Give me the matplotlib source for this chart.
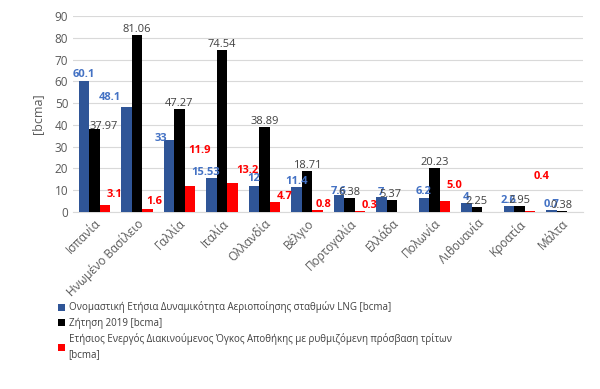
import matplotlib
matplotlib.use("Agg")
import matplotlib.pyplot as plt
import numpy as np

plt.rcParams['font.family'] = ['Open Sans', 'DejaVu Sans']

countries = ["Ισπανία", "Ηνωμένο Βασίλειο", "Γαλλία", "Ιταλία", "Ολλανδία", "Βέλγιο",
             "Πορτογαλία", "Ελλάδα", "Πολωνία", "Λιθουανία", "Κροατία", "Μάλτα"]
lng = [60.1, 48.1, 33, 15.53, 12, 11.4, 7.6, 7, 6.2, 4, 2.6, 0.7]
demand = [37.97, 81.06, 47.27, 74.54, 38.89, 18.71, 6.38, 5.37, 20.23, 2.25, 2.95, 0.38]
storage = [3.1, 1.6, 11.9, 13.2, 4.7, 0.8, 0.3, np.nan, 5.0, np.nan, 0.4, np.nan]

lng_labels = ["60.1", "48.1", "33", "15.53", "12", "11.4", "7.6", "7", "6.2", "4", "2.6", "0.7"]
demand_labels = ["37.97", "81.06", "47.27", "74.54", "38.89", "18.71", "6.38", "5.37", "20.23", "2.25", "2.95", "0.38"]
storage_labels = ["3.1", "1.6", "11.9", "13.2", "4.7", "0.8", "0.3", "", "5.0", "", "0.4", ""]

legend_labels = ["Ονομαστική Ετήσια Δυναμικότητα Αεριοποίησης σταθμών LNG [bcma]",
                 "Ζήτηση 2019 [bcma]",
                 "Ετήσιος Ενεργός Διακινούμενος Όγκος Αποθήκης με ρυθμιζόμενη πρόσβαση τρίτων\n[bcma]"]

# label offsets in points (dx, dy) relative to bar top center
lng_off = [(0, 1), (-12, 3), (-6, -3), (-4, 0), (0, 1), (0, 0), (0, -1), (0, -1), (0, 1), (0, 0), (0, 0), (0, 0)]
dem_off = [(7, -2), (0, 0), (0, 0), (0, 0), (0, 0), (0, 0), (0, 0), (-1, 0), (0, 0), (0, 0), (0, 0), (0, 0)]
sto_off = [(7, 4), (4.5, 1), (7, 22), (11, 5), (7, 0), (4.5, 0), (6.5, 0), (0, 0), (6.5, 7), (0, 0), (8, 21), (0, 0)]

blue = "#2F5597"
red = "#FF0000"

fig = plt.figure(figsize=(6.0, 3.89), dpi=100)
ax = fig.add_axes([0.122, 0.455, 0.85, 0.504])

x = np.arange(len(countries))
w = 0.25
b1 = ax.bar(x - w, lng, w, color=blue, label=legend_labels[0], zorder=3)
b2 = ax.bar(x, demand, w, color="black", label=legend_labels[1], zorder=3)
b3 = ax.bar(x + w, storage, w, color=red, label=legend_labels[2], zorder=3)

for i in range(len(countries)):
    ax.annotate(lng_labels[i], (x[i] - w, lng[i]), xytext=lng_off[i], textcoords="offset points",
                ha="center", va="bottom", fontsize=8, color="#4472C4", fontweight="bold", zorder=5)
    ax.annotate(demand_labels[i], (x[i], demand[i]), xytext=dem_off[i], textcoords="offset points",
                ha="center", va="bottom", fontsize=8, color="#404040", zorder=5)
    if storage_labels[i]:
        ax.annotate(storage_labels[i], (x[i] + w, storage[i]), xytext=sto_off[i], textcoords="offset points",
                    ha="center", va="bottom", fontsize=8, color=red, fontweight="bold", zorder=5)

ax.set_xlim(-0.5, len(countries) - 0.5)
ax.set_ylim(0, 90)
ax.set_yticks(np.arange(0, 91, 10))
ax.yaxis.grid(True, color="#D9D9D9", linewidth=0.8, zorder=0)
ax.set_axisbelow(True)
for s in ["top", "right", "left"]:
    ax.spines[s].set_visible(False)
ax.spines["bottom"].set_color("#D9D9D9")
ax.tick_params(axis="both", length=0, colors="#595959", labelsize=8.5)
ax.set_xticks(x)
ax.set_xticklabels(countries, rotation=45, ha="right", rotation_mode="anchor", fontsize=8.5, color="#595959")
ax.set_ylabel("[bcma]", fontsize=9, color="#595959", labelpad=8)

leg = fig.legend(handles=[b1, b2, b3], labels=legend_labels, loc="upper left", bbox_to_anchor=(0.09, 0.235),
                 frameon=False, fontsize=7, handlelength=0.75, handleheight=0.75, handletextpad=0.35,
                 labelspacing=0.45, labelcolor="#404040", borderaxespad=0)
for t in leg.get_texts():
    t.set_linespacing(1.5)

fig.savefig("out.png", dpi=100)
